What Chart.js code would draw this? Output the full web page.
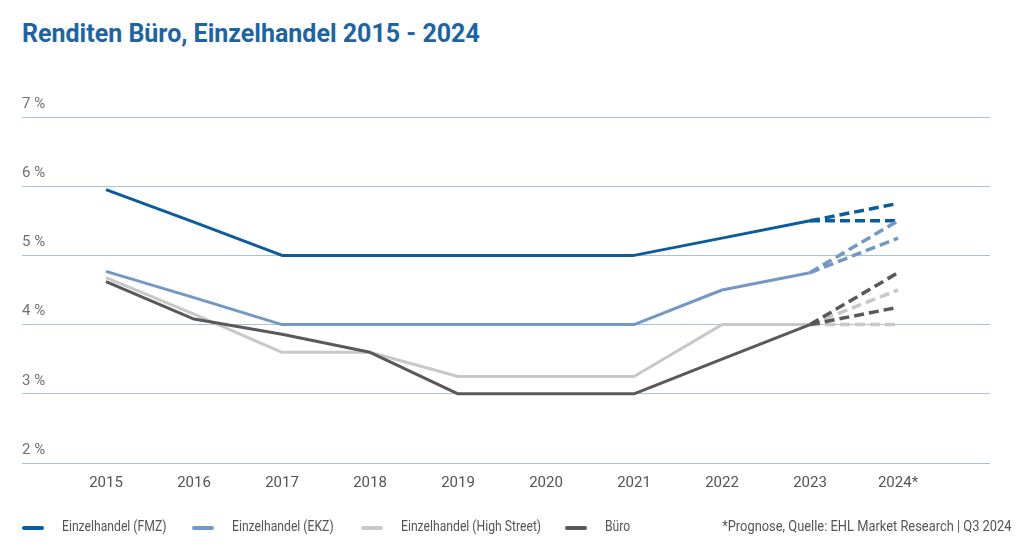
<!DOCTYPE html>
<html>
<head>
<meta charset="utf-8">
<script src="https://cdn.jsdelivr.net/npm/chart.js@4.4.1/dist/chart.umd.min.js"></script>
<style>
  body { margin: 0; background: #fff; }
  #wrap { position: relative; width: 1024px; height: 560px; overflow: hidden; }
  #title { position: absolute; left: 22px; top: 19px; font: bold 25px Roboto, sans-serif; color: #1d64a6; }
  #chart { position: absolute; left: 0; top: 0; }
  .legend { position: absolute; top: 518px; font: 14px Roboto, sans-serif; color: #555; white-space: nowrap; }
  .legend .mark { position: absolute; left: 0; top: 8px; width: 22px; height: 4px; border-radius: 2px; }
  .legend span.txt { position: absolute; left: 40px; top: 0; transform: scaleX(0.87); transform-origin: left center; }
  #note { position: absolute; top: 518px; right: 12px; font: 14px Roboto, sans-serif; color: #555; white-space: nowrap;
          transform: scaleX(0.92); transform-origin: right center; }
</style>
</head>
<body>
<div id="wrap">
  <div id="title">Renditen Büro, Einzelhandel 2015 - 2024</div>
  <canvas id="chart" width="1024" height="560"></canvas>
  <div id="legend"></div>
  <div id="note">*Prognose, Quelle: EHL Market Research | Q3 2024</div>
</div>
<script>
// Kategorien und Werte (Rendite in %)
const years = ['2015', '2016', '2017', '2018', '2019', '2020', '2021', '2022', '2023', '2024*'];
const yTicks = [2, 3, 4, 5, 6, 7];

const fmz = [5.95, 5.48, 5.0, 5.0, 5.0, 5.0, 5.0, 5.25, 5.5];
const ekz = [4.77, 4.39, 4.0, 4.0, 4.0, 4.0, 4.0, 4.5, 4.75];
const highStreet = [4.68, 4.15, 3.6, 3.6, 3.25, 3.25, 3.25, 4.0, 4.0];
const buero = [4.62, 4.08, 3.86, 3.6, 3.0, 3.0, 3.0, 3.5, 4.0];

// Prognose 2024 (zwei Szenarien je Serie)
const fmzPrognose = [5.75, 5.5];
const ekzPrognose = [5.5, 5.25];
const highStreetPrognose = [4.5, 4.0];
const bueroPrognose = [4.75, 4.25];

const names = ['Einzelhandel (FMZ)', 'Einzelhandel (EKZ)', 'Einzelhandel (High Street)', 'Büro'];
const colors = ['#0b5c9c', '#7398c6', '#c8c8c8', '#595959'];

const toPoints = arr => arr.map((v, i) => ({ x: i, y: v }));
const last = arr => arr[arr.length - 1];

const series = [fmz, ekz, highStreet, buero];
const prognosen = [fmzPrognose, ekzPrognose, highStreetPrognose, bueroPrognose];

const datasets = [];
series.forEach((s, k) => {
  prognosen[k].forEach(p => {
    datasets.push({
      label: names[k] + ' Prognose',
      data: [{ x: s.length - 1, y: last(s) }, { x: s.length, y: p }],
      borderColor: colors[k],
      borderWidth: 3.5,
      borderDash: [10, 5],
      pointRadius: 0,
      tension: 0,
      order: 10 - k
    });
  });
});
series.forEach((s, k) => {
  datasets.push({
    label: names[k],
    data: toPoints(s),
    borderColor: colors[k],
    borderWidth: 3,
    pointRadius: 0,
    tension: 0,
    borderJoinStyle: 'round',
    order: 4 - k
  });
});

// y-Beschriftung oberhalb der Gitterlinien
const yLabelPlugin = {
  id: 'yLabels',
  afterDraw(chart) {
    const ctx = chart.ctx;
    const y = chart.scales.y;
    ctx.save();
    ctx.font = '15px Roboto, sans-serif';
    ctx.fillStyle = '#707070';
    ctx.textAlign = 'left';
    ctx.textBaseline = 'middle';
    yTicks.forEach(v => {
      ctx.fillText(v + ' %', 22, y.getPixelForValue(v) - 13);
    });
    ctx.restore();
  }
};

new Chart(document.getElementById('chart'), {
  type: 'line',
  data: { datasets: datasets },
  options: {
    responsive: false,
    animation: false,
    layout: { padding: { left: 22, right: 34, top: 117, bottom: 60 } },
    plugins: { legend: { display: false }, tooltip: { enabled: false } },
    scales: {
      x: {
        type: 'linear',
        min: -84 / 88,
        max: 9 + 92 / 88,
        grid: { display: false, drawTicks: false },
        border: { display: false },
        afterBuildTicks: scale => { scale.ticks = years.map((l, i) => ({ value: i })); },
        afterFit: scale => { scale.height = 37; },
        ticks: {
          padding: 11,
          color: '#555',
          font: { family: 'Roboto', size: 15 },
          maxRotation: 0,
          autoSkip: false,
          callback: v => years[v]
        }
      },
      y: {
        min: 2,
        max: 7,
        afterBuildTicks: scale => { scale.ticks = yTicks.map(v => ({ value: v })); },
        afterFit: scale => { scale.width = 0; },
        grid: { color: '#a9c0df', lineWidth: 1, drawTicks: false },
        border: { display: false },
        ticks: { display: false }
      }
    }
  },
  plugins: [yLabelPlugin]
});

// Legende unten
const legend = document.getElementById('legend');
const legendX = [22, 192, 361, 565];
names.forEach((n, k) => {
  const item = document.createElement('div');
  item.className = 'legend';
  item.style.left = legendX[k] + 'px';
  item.innerHTML = `<div class="mark" style="background:${colors[k]}"></div><span class="txt">${n}</span>`;
  legend.appendChild(item);
});
</script>
</body>
</html>
